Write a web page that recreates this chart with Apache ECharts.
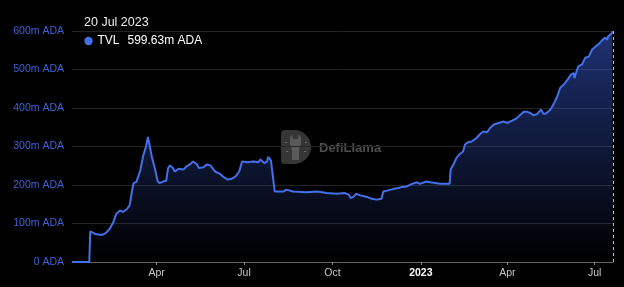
<!DOCTYPE html>
<html>
<head>
<meta charset="utf-8">
<style>
  html, body { margin: 0; padding: 0; background: #000; }
  #chart { width: 624px; height: 287px; }
</style>
<script src="https://cdn.jsdelivr.net/npm/echarts@6/dist/echarts.min.js"></script>
</head>
<body>
<div id="chart"></div>
<script>
// ---- data ----
const dates = [
  '2022-01-03','2022-01-21','2022-01-22','2022-01-27','2022-02-01','2022-02-04','2022-02-07','2022-02-11','2022-02-15','2022-02-18',
  '2022-02-22','2022-02-25','2022-03-01','2022-03-04','2022-03-06','2022-03-08','2022-03-11','2022-03-15','2022-03-18','2022-03-21',
  '2022-03-23','2022-03-25','2022-03-27','2022-03-29','2022-03-31','2022-04-02','2022-04-04','2022-04-08','2022-04-11','2022-04-13',
  '2022-04-15','2022-04-18','2022-04-20','2022-04-24','2022-04-26','2022-04-29','2022-05-02','2022-05-06','2022-05-09','2022-05-13',
  '2022-05-15','2022-05-20','2022-05-23','2022-05-27','2022-05-28','2022-06-01','2022-06-06','2022-06-09','2022-06-14','2022-06-18',
  '2022-06-22','2022-06-24','2022-06-26','2022-06-29','2022-07-04','2022-07-11','2022-07-16','2022-07-18','2022-07-22','2022-07-25',
  '2022-07-26','2022-07-29','2022-07-31','2022-08-02','2022-08-04','2022-08-11','2022-08-14','2022-08-21','2022-09-04','2022-09-15',
  '2022-09-25','2022-10-06','2022-10-14','2022-10-18','2022-10-20','2022-10-23','2022-10-26','2022-10-30','2022-11-06','2022-11-11',
  '2022-11-16','2022-11-21','2022-11-23','2022-11-28','2022-12-04','2022-12-09','2022-12-12','2022-12-17','2022-12-23','2022-12-28',
  '2022-12-31','2023-01-07','2023-01-11','2023-01-16','2023-01-21','2023-01-28','2023-01-31','2023-02-01','2023-02-04','2023-02-07',
  '2023-02-10','2023-02-14','2023-02-16','2023-02-19','2023-02-23','2023-02-28','2023-03-04','2023-03-07','2023-03-11','2023-03-14',
  '2023-03-18','2023-03-23','2023-03-28','2023-04-01','2023-04-06','2023-04-11','2023-04-15','2023-04-18','2023-04-22','2023-04-25',
  '2023-04-28','2023-05-02','2023-05-06','2023-05-09','2023-05-12','2023-05-16','2023-05-19','2023-05-23','2023-05-26','2023-05-30',
  '2023-06-02','2023-06-06','2023-06-09','2023-06-10','2023-06-12','2023-06-14','2023-06-18','2023-06-21','2023-06-25','2023-06-28',
  '2023-07-02','2023-07-05','2023-07-09','2023-07-12','2023-07-14','2023-07-15','2023-07-17','2023-07-19','2023-07-20'
];
const tvl = [
  0, 0, 79.5, 73, 71, 71, 75, 85, 103, 125,
  134, 130, 137, 147, 178, 205, 208, 237, 275, 300,
  325, 300, 274, 272, 235, 211, 205, 209, 211, 244,
  251, 244, 235, 242, 238, 240, 248, 254, 261, 254,
  244, 246, 253, 251, 253, 235, 229, 222, 214, 216,
  222, 222, 235, 261, 259, 261, 259, 266, 257, 261,
  273, 264, 261, 183, 186, 183, 188, 183, 181, 183,
  179, 177, 179, 175, 166, 170, 177, 173, 169, 164,
  162, 164, 183, 186, 190, 192, 195, 196, 203, 207,
  203, 209, 207, 205, 203, 203, 203, 240, 253, 270,
  279, 287, 305, 311, 313, 322, 333, 339, 337, 348,
  357, 361, 365, 361, 367, 374, 383, 390, 390, 387,
  381, 384, 396, 384, 387, 396, 409, 430, 452, 462,
  471, 486, 491, 478, 495, 508, 514, 530, 534, 551,
  560, 566, 577, 583, 577, 586, 582, 595, 599.63
];
const xTickDates = ['2022-04-01','2022-07-01','2022-10-01','2023-01-01','2023-04-01','2023-07-01'];
const monthNames = ['Jan','Feb','Mar','Apr','May','Jun','Jul','Aug','Sep','Oct','Nov','Dec'];
const hoverDate = '20 Jul 2023';
const seriesName = 'TVL';
const hoverValue = 599.63;

// ---- helpers ----
function ts(s) { const p = s.split('-').map(Number); return new Date(p[0], p[1] - 1, p[2]).getTime(); }
const seriesData = dates.map((d, i) => [ts(d), tvl[i]]);
const FONT = '"Liberation Sans", Arial, Helvetica, sans-serif';
const LINE = '#4470ea';
const tickTs = xTickDates.map(ts);

const chart = echarts.init(document.getElementById('chart'), null, { renderer: 'canvas' });
chart.setOption({
  backgroundColor: '#000',
  animation: false,
  grid: { left: 72, right: 11, top: 31, bottom: 25, containLabel: false },
  xAxis: {
    type: 'value',
    min: ts(dates[0]),
    max: ts(dates[dates.length - 1]),
    axisLine: { show: true, onZero: false, lineStyle: { color: '#666', width: 1 } },
    axisTick: { show: true, length: 3, lineStyle: { color: '#888' }, customValues: tickTs },
    splitLine: { show: false },
    axisLabel: {
      customValues: tickTs,
      margin: 6,
      fontSize: 10.5,
      fontFamily: FONT,
      color: '#c8c8c8',
      formatter: function (v) {
        const d = new Date(v);
        if (d.getMonth() === 0) return '{y|' + d.getFullYear() + '}';
        return monthNames[d.getMonth()];
      },
      rich: { y: { fontWeight: 'bold', color: '#ffffff', fontSize: 10.5, fontFamily: FONT } }
    }
  },
  yAxis: {
    type: 'value',
    min: 0, max: 600, interval: 100,
    axisLine: { show: false },
    axisTick: { show: false },
    splitLine: { show: true, lineStyle: { color: '#242424', width: 1 } },
    axisLabel: {
      margin: 8,
      fontSize: 10.5,
      fontFamily: FONT,
      color: '#3e62d8',
      formatter: function (v) { return v === 0 ? '0 ADA' : v + 'm ADA'; }
    }
  },
  series: [{
    name: seriesName,
    type: 'line',
    data: seriesData,
    showSymbol: false,
    symbol: 'none',
    lineStyle: { color: LINE, width: 2 },
    itemStyle: { color: LINE },
    areaStyle: {
      color: new echarts.graphic.LinearGradient(0, 0, 0, 1, [
        { offset: 0, color: 'rgba(62,100,232,0.70)' },
        { offset: 1, color: 'rgba(62,100,232,0.0)' }
      ])
    },
    markLine: {
      silent: true,
      symbol: ['none', 'none'],
      label: { show: false },
      lineStyle: { type: [3, 3], color: '#bdbdbd', width: 1 },
      data: [{ xAxis: ts(dates[dates.length - 1]) }]
    },
    z: 3
  }],
  graphic: [
    // watermark
    {
      type: 'group', left: 281, top: 130, z: 1, silent: true,
      children: [
        { type: 'rect', shape: { x: 0, y: 0, width: 30, height: 34, r: [4, 17, 17, 4] }, style: { fill: '#363636' } },
        { type: 'polygon', shape: { points: [[9,8],[11,4],[12,9],[17,9],[18,4],[20,8],[20,14],[18,20],[18,30],[11,30],[11,20],[9,14]] }, style: { fill: '#5a5a5a' } },
        { type: 'rect', shape: { x: 4, y: 12, width: 2, height: 1 }, style: { fill: '#666' } },
        { type: 'rect', shape: { x: 24, y: 12, width: 2, height: 1 }, style: { fill: '#666' } },
        { type: 'rect', shape: { x: 5, y: 21, width: 2, height: 1 }, style: { fill: '#666' } },
        { type: 'rect', shape: { x: 23, y: 21, width: 2, height: 1 }, style: { fill: '#666' } },
        { type: 'text', x: 38, y: 18, style: { text: 'DefiLlama', fill: '#4e4e4e', font: 'bold 13px ' + FONT, textVerticalAlign: 'middle' } }
      ]
    },
    // tooltip header
    { type: 'text', x: 84, y: 22.5, z: 10, style: { text: hoverDate, fill: '#ececec', font: '12.5px ' + FONT, textVerticalAlign: 'middle' } },
    { type: 'circle', shape: { cx: 88.5, cy: 41, r: 4.2 }, z: 10, style: { fill: LINE } },
    { type: 'text', x: 97.5, y: 41, z: 10, style: { text: seriesName, fill: '#ffffff', font: '12px ' + FONT, textVerticalAlign: 'middle' } },
    { type: 'text', x: 127.5, y: 41, z: 10, style: { text: hoverValue.toFixed(2) + 'm ADA', fill: '#ffffff', font: '12px ' + FONT, textVerticalAlign: 'middle' } }
  ]
});
</script>
</body>
</html>
